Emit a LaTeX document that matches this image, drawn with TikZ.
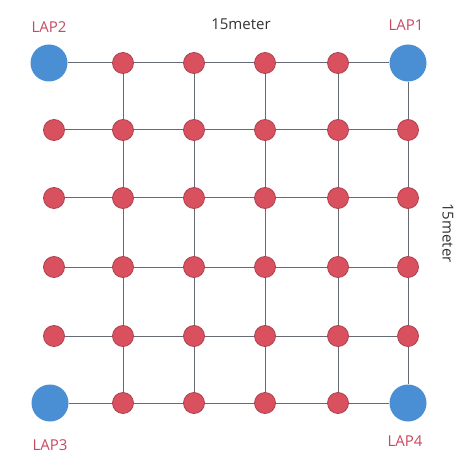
\documentclass[tikz,border=0pt]{standalone}
\usepackage{fontspec}
\setmainfont{Open Sans}
\definecolor{lapblue}{HTML}{4A8FD3}
\definecolor{nodered}{HTML}{D9515F}
\definecolor{nodeedge}{HTML}{B0404F}
\definecolor{gridline}{HTML}{666A74}
\definecolor{laptext}{HTML}{C9485F}
\definecolor{dimtext}{HTML}{333333}
\tikzset{
  lap/.style={circle,fill=lapblue,minimum size=37pt,inner sep=0pt},
  rnode/.style={circle,fill=nodered,draw=nodeedge,line width=0.8pt,minimum size=21pt,inner sep=0pt},
  link/.style={draw=gridline,line width=1pt},
  laplabel/.style={text=laptext,font=\fontsize{15}{18}\selectfont},
  dimlabel/.style={text=dimtext,font=\fontsize{15}{18}\selectfont}
}
\begin{document}
\begin{tikzpicture}[x=1pt,y=-1pt]
\useasboundingbox (0,0) rectangle (473,470);
\def\ya{63}\def\yb{130}\def\yc{198}\def\yd{267}\def\ye{336}\def\yf{403}
% LAP corner nodes
\node[lap] (n11) at (49,\ya) {};
\node[lap] (n16) at (408,\ya) {};
\node[lap] (n61) at (50,\yf) {};
\node[lap] (n66) at (408,\yf) {};
% top and bottom row reds
\foreach \c/\x in {2/123,3/194,4/265,5/338}{
  \node[rnode] (n1\c) at (\x,\ya) {};
  \node[rnode] (n6\c) at (\x,\yf) {};
}
% middle rows
\foreach \r/\y in {2/\yb,3/\yc,4/\yd,5/\ye}{
  \node[rnode] (n\r1) at (54,\y) {};
  \foreach \c/\x in {2/123,3/194,4/265,5/338,6/408}{
    \node[rnode] (n\r\c) at (\x,\y) {};
  }
}
% horizontal links
\foreach \r in {1,...,6}{
  \foreach \a/\b in {1/2,2/3,3/4,4/5,5/6}{
    \draw[link] (n\r\a) -- (n\r\b);
  }
}
% vertical links (columns 2..6)
\foreach \c in {2,...,6}{
  \foreach \a/\b in {1/2,2/3,3/4,4/5,5/6}{
    \draw[link] (n\a\c) -- (n\b\c);
  }
}
% labels
\node[laplabel] (t2) at (49,27) {LAP2};
\node[laplabel] (t1) at (406,25) {LAP1};
\node[laplabel] (t3) at (50,445) {LAP3};
\node[laplabel] (t4) at (405,441) {LAP4};
\node[dimlabel] (dtop) at (241,24) {15meter};
\node[dimlabel,rotate=-90] (dright) at (448,233) {15meter};
\end{tikzpicture}
\end{document}
